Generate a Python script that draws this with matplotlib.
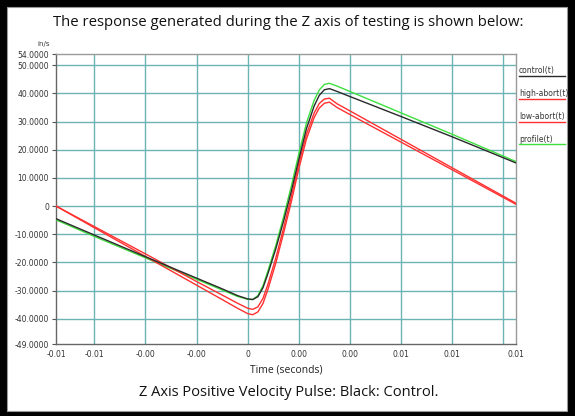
import matplotlib.pyplot as plt
from matplotlib.patches import Rectangle
from matplotlib.lines import Line2D

W, H = 575, 416

# time base (s) and velocities (in/s)
t = [-0.0075, -0.006, -0.004, -0.002, -0.001, -0.0004, 0.0000, 0.0002, 0.0004,
     0.0006, 0.0008, 0.0011, 0.0014, 0.0017, 0.0020, 0.0023, 0.0026, 0.0028,
     0.0030, 0.0032, 0.0035, 0.0040, 0.0060, 0.0080, 0.0105]
control = [-4.5, -10.3, -18.0, -25.6, -29.4, -31.8, -33.0, -33.2, -32.2,
           -29.0, -23.8, -15.2, -5.5, 5.0, 16.5, 27.5, 35.5, 39.3,
           41.3, 41.7, 40.7, 38.9, 31.8, 24.6, 15.3]
high_abort = [0.0, -7.3, -17.0, -26.8, -31.6, -34.5, -36.3, -36.7, -35.8,
              -32.8, -27.6, -18.5, -8.0, 3.0, 15.0, 25.5, 33.0, 36.4,
              38.0, 38.3, 36.3, 33.8, 23.7, 13.6, 1.0]
low_abort = [0.0, -7.7, -17.9, -28.1, -33.2, -36.3, -38.2, -38.6, -37.6,
             -34.6, -29.4, -20.3, -9.8, 1.2, 13.2, 23.8, 31.4, 34.8,
             36.5, 36.9, 35.0, 32.5, 22.7, 12.9, 0.6]
profile = [-4.9, -10.8, -18.4, -26.0, -29.8, -32.1, -33.1, -33.2, -31.8,
           -28.3, -22.8, -14.0, -4.0, 6.8, 18.5, 29.5, 37.5, 41.2,
           43.2, 43.6, 42.6, 40.7, 33.1, 25.5, 15.8]

x_lim = (-0.0075, 0.0105)
y_lim = (-49, 54)
x_grid = [-0.006, -0.004, -0.002, 0.0, 0.002, 0.004, 0.006, 0.008, 0.010]
x_labels_at = [-0.0075, -0.006, -0.004, -0.002, 0.0, 0.002, 0.004, 0.006, 0.008, 0.0105]
y_grid = [50, 40, 30, 20, 10, 0, -10, -20, -30, -40]
y_labels_at = [54, 50, 40, 30, 20, 10, 0, -10, -20, -30, -40, -49]

series = [("control(t)", control, "#2a2a2a"),
          ("high-abort(t)", high_abort, "#ff3030"),
          ("low-abort(t)", low_abort, "#ff3030"),
          ("profile(t)", profile, "#3ee03e")]


def fx(px):
    return px / W


def fy(py):
    return 1 - py / H


fig = plt.figure(figsize=(W / 100, H / 100), dpi=100)
fig.patch.set_facecolor("black")
fig.patches.append(Rectangle((fx(7), fy(411)), fx(567) - fx(7), fy(7) - fy(411),
                             transform=fig.transFigure, facecolor="white",
                             edgecolor="#999999", lw=0.8, zorder=-10))

ax = fig.add_axes([fx(56), fy(344), fx(516) - fx(56), fy(54) - fy(344)])
ax.set_facecolor("white")
ax.set_xlim(*x_lim)
ax.set_ylim(*y_lim)

for gx in x_grid:
    ax.axvline(gx, color="#6cb4b4", lw=1.0, zorder=1)
for gy in y_grid:
    ax.axhline(gy, color="#6cb4b4", lw=1.0, zorder=1)

# draw profile first so the control trace sits on top of it
for name, vals, col in [series[3], series[1], series[2], series[0]]:
    ax.plot(t, vals, color=col, lw=1.0, zorder=3)

ax.set_xticks(x_labels_at)
ax.set_xticklabels(["0" if v == 0 else "%.2f" % v for v in x_labels_at])
ax.set_yticks(y_labels_at)
ax.set_yticklabels(["0" if v == 0 else "%.4f" % v for v in y_labels_at])
ax.tick_params(axis="x", length=0, pad=4, labelsize=5.5, labelcolor="#333333")
ax.tick_params(axis="y", length=3, width=0.8, color="#555555", pad=2,
               labelsize=5.5, labelcolor="#333333")
for side in ["top", "right"]:
    ax.spines[side].set_color("#9a9a9a")
for side in ["left", "bottom"]:
    ax.spines[side].set_color("#666666")
for s in ax.spines.values():
    s.set_linewidth(1.0)

fig.text(fx(288), fy(22), "The response generated during the Z axis of testing is shown below:",
         ha="center", va="center", fontsize=10.7, family="Open Sans", color="#111111")
fig.text(fx(44), fy(44), "in/s", ha="center", va="center", fontsize=5, color="#333333")
fig.text(fx(286), fy(370), "Time (seconds)", ha="center", va="center",
         fontsize=7.5, family="Open Sans", color="#222222")
fig.text(fx(289), fy(393), "Z Axis Positive Velocity Pulse: Black: Control.",
         ha="center", va="center", fontsize=10.5, family="Open Sans", color="#111111")

# legend entries to the right of the plot
leg_y = [71, 94, 117, 139]
for (name, vals, col), ly in zip(series, leg_y):
    fig.text(fx(519), fy(ly), name, ha="left", va="center", fontsize=5.5, color="#333333")
    fig.lines.append(Line2D([fx(519), fx(565)], [fy(ly + 5), fy(ly + 5)],
                            transform=fig.transFigure, color=col, lw=1.0))

fig.savefig("out.png", dpi=100, facecolor=fig.get_facecolor())
